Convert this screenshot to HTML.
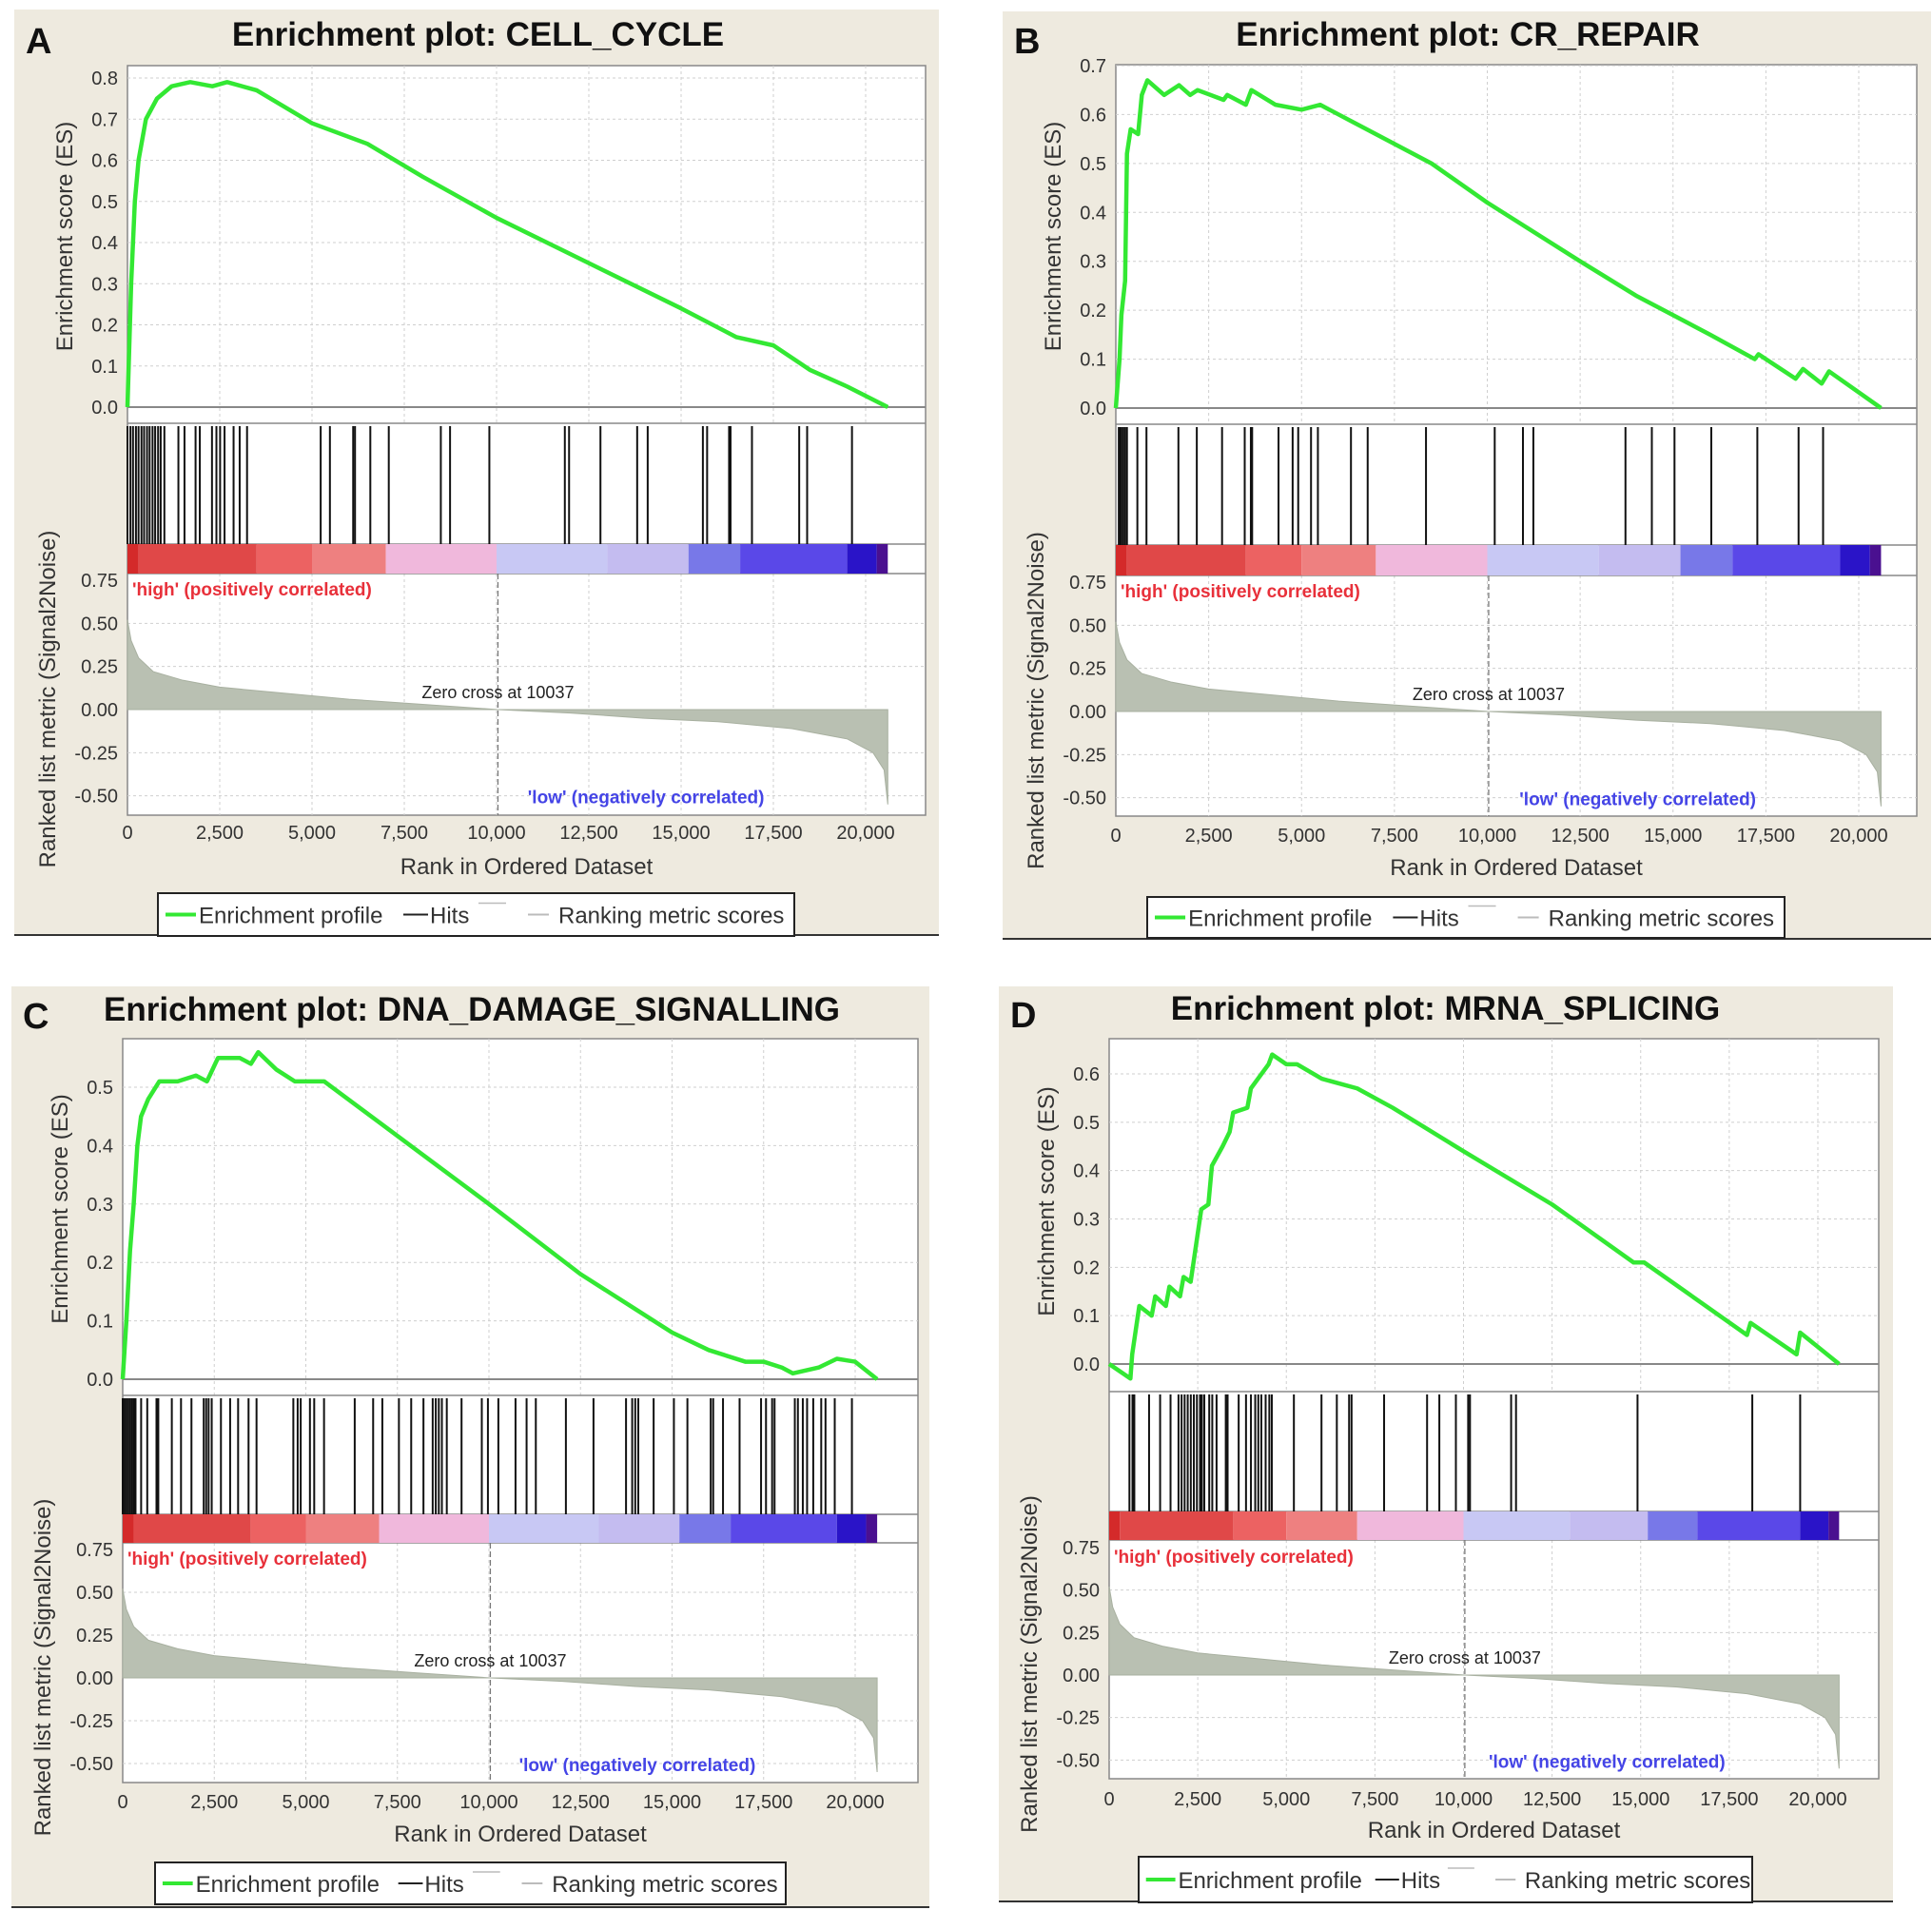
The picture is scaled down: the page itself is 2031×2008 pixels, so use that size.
<!DOCTYPE html>
<html><head><meta charset="utf-8"><style>
html,body{margin:0;padding:0;background:#fff;}
svg{display:block;font-family:"Liberation Sans",sans-serif;}
</style></head><body>
<svg id="fig" width="2031" height="2008" viewBox="0 0 2031 2008" xmlns="http://www.w3.org/2000/svg"></svg>
<script>
// ---------- data ----------
const titles = ["CELL_CYCLE","CR_REPAIR","DNA_DAMAGE_SIGNALLING","MRNA_SPLICING"];
const letters = ["A","B","C","D"];
const xTicks = [0,2500,5000,7500,10000,12500,15000,17500,20000];
const xTickLabels = ["0","2,500","5,000","7,500","10,000","12,500","15,000","17,500","20,000"];
const lowTicks = [0.75,0.5,0.25,0,-0.25,-0.5];
const lowTickLabels = ["0.75","0.50","0.25","0.00","-0.25","-0.50"];
const esTicksA = [0,0.1,0.2,0.3,0.4,0.5,0.6,0.7,0.8];
const esTicksB = [0,0.1,0.2,0.3,0.4,0.5,0.6,0.7];
const esTicksC = [0,0.1,0.2,0.3,0.4,0.5];
const esTicksD = [0,0.1,0.2,0.3,0.4,0.5,0.6];
const totalRanks = 20600;
const zeroCross = 10037;

const esRankA = [0,100,200,300,500,800,1200,1700,2300,2700,3500,5000,6500,8000,10000,12500,15000,16500,17500,18500,19500,20600];
const esValA  = [0,0.3,0.5,0.6,0.7,0.75,0.78,0.79,0.78,0.79,0.77,0.69,0.64,0.56,0.46,0.35,0.24,0.17,0.15,0.09,0.05,0];
const hitsA = [0,80,150,230,300,380,450,530,600,680,750,830,900,1000,1380,1545,1845,1960,2290,2410,2510,2630,2875,3040,3240,5235,5485,6115,6165,6580,7080,8490,8740,9805,11850,11965,12815,13810,14095,15590,15705,16300,16340,16920,18200,18415,19630];

const esRankB = [0,100,150,250,300,400,600,700,850,1300,1700,2000,2200,2900,3000,3500,3650,4300,5000,5500,6000,7000,8500,10000,12500,14000,15000,16000,17200,17300,18300,18500,19000,19200,20600];
const esValB  = [0,0.1,0.19,0.26,0.52,0.57,0.56,0.64,0.67,0.64,0.66,0.64,0.65,0.63,0.64,0.62,0.65,0.62,0.61,0.62,0.6,0.56,0.5,0.42,0.3,0.23,0.19,0.15,0.1,0.11,0.06,0.08,0.05,0.075,0];
const hitsB = [80,120,150,200,250,300,580,825,1685,2180,2860,3470,3635,3670,4380,4760,4910,5255,5440,6330,6780,8350,10200,10960,11240,13720,14430,15040,16030,17270,18380,19040];

const esRankC = [0,100,200,300,400,500,700,1000,1500,2000,2300,2600,3200,3500,3700,4200,4700,5500,7000,8500,10000,12500,14000,15000,16000,17000,17500,18000,18300,19000,19500,20000,20600];
const esValC  = [0,0.1,0.22,0.3,0.4,0.45,0.48,0.51,0.51,0.52,0.51,0.55,0.55,0.54,0.56,0.53,0.51,0.51,0.44,0.37,0.3,0.18,0.12,0.08,0.05,0.03,0.03,0.02,0.01,0.02,0.035,0.03,0];
const hitsC = [0,50,100,150,200,250,300,350,503,670,922,972,1341,1592,1877,2212,2279,2346,2430,2682,2933,3151,3436,3654,4659,4777,4860,5112,5229,5497,6335,6838,7089,7542,7877,8212,8464,8548,8631,8715,8849,9252,9805,9972,10257,10726,11028,11280,12101,12855,13743,13911,13995,14078,14497,15050,15419,16056,16123,16391,16844,17430,17565,17732,17799,18352,18436,18570,18687,18855,19073,19190,19442,19911];

const esRankD = [0,600,650,750,850,1200,1300,1600,1700,2000,2100,2300,2400,2600,2800,2900,3200,3400,3500,3900,4000,4500,4600,5000,5300,6000,7000,8000,10000,12500,14800,15100,18000,18100,19400,19500,20600];
const esValD  = [0,-0.03,0.02,0.07,0.12,0.1,0.14,0.12,0.16,0.14,0.18,0.17,0.22,0.32,0.33,0.41,0.45,0.48,0.52,0.53,0.57,0.62,0.64,0.62,0.62,0.59,0.57,0.53,0.44,0.33,0.21,0.21,0.06,0.085,0.02,0.065,0];
const hitsD = [572,658,710,1126,1438,1732,1957,2044,2130,2217,2304,2390,2477,2564,2616,2685,2824,2910,3031,3291,3343,3655,3862,4001,4122,4209,4295,4416,4520,4590,5213,5992,6425,6771,6841,7759,8972,9318,9785,10131,10183,11344,11482,14911,18150,19501];

const metricRank = [0,100,300,700,1500,2500,4000,6000,8000,10037,12000,14000,16000,18000,19500,20200,20500,20600];
const metricVal  = [0.52,0.4,0.3,0.22,0.17,0.13,0.1,0.06,0.03,0,-0.02,-0.05,-0.07,-0.11,-0.17,-0.25,-0.35,-0.55];

const barStart = [0,300,3500,5000,7000,10000,13000,15200,16600,19500,20300];
const barEnd   = [300,3500,5000,7000,10000,13000,15200,16600,19500,20300,20600];
const barColor = ["#d42a2a","#e04848","#ec6262","#ee8080","#f0b8dc","#c8c8f4","#c4bcf0","#7878e8","#5a48e8","#2a14c8","#4a1090"];

// ---------- layout (geometry, not data) ----------
const panels = [
 {bg:[15,10,987,983], L:134,R:973,top:69,x20:910, esMax:0.8,esMaxY:82,es0:428,esB:445,hitB:572,colB:603, l75:610,l0:746,bot:857, tickY:882,xlabY:919,leg:[166,939,835,984],titleY:48, esTicks:esTicksA,esRank:esRankA,esVal:esValA,hits:hitsA},
 {bg:[1054,12,2030,987], L:1173,R:2015,top:68,x20:1954, esMax:0.7,esMaxY:69,es0:429,esB:446,hitB:573,colB:605, l75:612,l0:748,bot:858, tickY:885,xlabY:920,leg:[1206,943,1876,986],titleY:48, esTicks:esTicksB,esRank:esRankB,esVal:esValB,hits:hitsB},
 {bg:[12,1037,977,2005], L:129,R:965,top:1092,x20:899, esMax:0.5,esMaxY:1143,es0:1450,esB:1467,hitB:1592,colB:1622, l75:1629,l0:1764,bot:1874, tickY:1901,xlabY:1936,leg:[163,1958,826,2002],titleY:1073, esTicks:esTicksC,esRank:esRankC,esVal:esValC,hits:hitsC},
 {bg:[1050,1037,1990,1999], L:1166,R:1975,top:1092,x20:1911, esMax:0.6,esMaxY:1129,es0:1434,esB:1463,hitB:1589,colB:1619, l75:1627,l0:1761,bot:1870, tickY:1898,xlabY:1932,leg:[1197,1952,1842,2000],titleY:1072, esTicks:esTicksD,esRank:esRankD,esVal:esValD,hits:hitsD}
];

const NS = "http://www.w3.org/2000/svg";
const svg = document.getElementById("fig");
function mk(tag, attrs, parent, text){
  const e = document.createElementNS(NS, tag);
  for (const k in attrs) e.setAttribute(k, attrs[k]);
  if (text !== undefined) e.textContent = text;
  parent.appendChild(e);
  return e;
}

panels.forEach((p, i) => {
  const g = mk("g", {}, svg);
  
  
  const xs = r => p.L + (r / 20000) * (p.x20 - p.L);
  const ys = v => p.es0 - (v / p.esMax) * (p.es0 - p.esMaxY);
  const yl = v => p.l0 - (v / 0.75) * (p.l0 - p.l75);

  const bg = mk("rect", {x:p.bg[0], y:p.bg[1], width:p.bg[2]-p.bg[0], height:p.bg[3]-p.bg[1], fill:"#eeeadf"}, g);
  
  
  mk("line", {x1:p.bg[0], x2:p.bg[2], y1:p.bg[3], y2:p.bg[3], stroke:"#333", "stroke-width":2}, g);

  const lt = mk("text", {x:p.bg[0]+12, y:p.titleY+8, "font-size":38, "font-weight":"bold", fill:"#111"}, g, letters[i]);
  
  
  const tt = mk("text", {x:(p.L+p.R)/2 - 51, y:p.titleY, "font-size":35, "font-weight":"bold", fill:"#111", "text-anchor":"middle"}, g, "Enrichment plot: " + titles[i]);
  
  

  const pa = mk("rect", {x:p.L, y:p.top, width:p.R-p.L, height:p.bot-p.top, fill:"#fff", stroke:"#888", "stroke-width":1.5}, g);
  
  

  // grid
  xTicks.forEach(t => {
    if (t === 0) return;
    mk("line", {x1:xs(t), x2:xs(t), y1:p.top, y2:p.esB, stroke:"#cfcfcf", "stroke-dasharray":"3,3"}, g);
    mk("line", {x1:xs(t), x2:xs(t), y1:p.colB, y2:p.bot, stroke:"#cfcfcf", "stroke-dasharray":"3,3"}, g);
  });
  p.esTicks.forEach(t => {
    if (t > 0) mk("line", {x1:p.L, x2:p.R, y1:ys(t), y2:ys(t), stroke:"#cfcfcf", "stroke-dasharray":"3,3"}, g);
    const tl = mk("text", {x:p.L-10, y:ys(t)+7, "font-size":20, fill:"#333", "text-anchor":"end"}, g, t.toFixed(1));
    
    
  });
  lowTicks.forEach((t, k) => {
    if (t !== 0 && t !== 0.75) mk("line", {x1:p.L, x2:p.R, y1:yl(t), y2:yl(t), stroke:"#cfcfcf", "stroke-dasharray":"3,3"}, g);
    const tl = mk("text", {x:p.L-10, y:yl(t)+7, "font-size":20, fill:"#333", "text-anchor":"end"}, g, lowTickLabels[k]);
    
    
  });
  mk("line", {x1:p.L, x2:p.R, y1:p.es0, y2:p.es0, stroke:"#888", "stroke-width":2}, g);
  [p.esB, p.hitB, p.colB].forEach(y => mk("line", {x1:p.L, x2:p.R, y1:y, y2:y, stroke:"#888", "stroke-width":1.5}, g));

  // metric area
  let d = "M" + xs(metricRank[0]) + "," + yl(0);
  metricRank.forEach((r, k) => { d += " L" + xs(r) + "," + yl(metricVal[k]); });
  d += " L" + xs(metricRank[metricRank.length-1]) + "," + yl(0) + " Z";
  const ma = mk("path", {d:d, fill:"#b9c0b2", stroke:"#a8b0a0", "stroke-width":1}, g);
  
  

  // zero cross
  mk("line", {x1:xs(zeroCross), x2:xs(zeroCross), y1:p.colB, y2:p.bot, stroke:"#777", "stroke-dasharray":"6,3", "stroke-width":1.3}, g);
  const zc = mk("text", {x:xs(zeroCross), y:yl(0)-12, "font-size":18, fill:"#222", "text-anchor":"middle"}, g, "Zero cross at " + zeroCross);
  
  
  const hi = mk("text", {x:p.L+5, y:p.l75+16, "font-size":19, "font-weight":"bold", fill:"#e8303a"}, g, "'high' (positively correlated)");
  
  
  const lo = mk("text", {x:xs(14050), y:yl(-0.5)+8, "font-size":19, "font-weight":"bold", fill:"#4444e6", "text-anchor":"middle"}, g, "'low' (negatively correlated)");
  
  

  // color bar
  barStart.forEach((s, k) => {
    const b = mk("rect", {x:xs(s), y:p.hitB, width:xs(barEnd[k])-xs(s), height:p.colB-p.hitB, fill:barColor[k]}, g);
    
    
  });

  // hits
  p.hits.forEach(h => {
    const l = mk("line", {x1:xs(h), x2:xs(h), y1:p.esB+3, y2:p.hitB, stroke:"#111", "stroke-width":2}, g);
    
    
  });

  // ES curve
  const pts = p.esRank.map((r, k) => xs(r) + "," + ys(p.esVal[k])).join(" ");
  const es = mk("polyline", {points:pts, fill:"none", stroke:"#33e833", "stroke-width":4.5, "stroke-linejoin":"round"}, g);
  
  

  // x ticks
  xTicks.forEach((t, k) => {
    const tl = mk("text", {x:xs(t), y:p.tickY, "font-size":20, fill:"#333", "text-anchor":"middle"}, g, xTickLabels[k]);
    
    
  });
  const xl = mk("text", {x:(p.L+p.R)/2, y:p.xlabY, "font-size":24, fill:"#333", "text-anchor":"middle"}, g, "Rank in Ordered Dataset");
  
  
  const cy1 = (p.top + p.es0) / 2;
  const yl1 = mk("text", {x:0, y:0, "font-size":24, fill:"#333", "text-anchor":"middle", transform:"translate(" + (p.L-58) + "," + cy1 + ") rotate(-90)"}, g, "Enrichment score (ES)");
  
  
  const cy2 = (p.colB - 40 + p.bot + 50) / 2;
  const yl2 = mk("text", {x:0, y:0, "font-size":24, fill:"#333", "text-anchor":"middle", transform:"translate(" + (p.L-76) + "," + cy2 + ") rotate(-90)"}, g, "Ranked list metric (Signal2Noise)");
  
  

  // legend
  const lg = mk("g", {}, g);
  
  
  const [a, b, c, e] = p.leg;
  mk("rect", {x:a, y:b, width:c-a, height:e-b, fill:"#fff", stroke:"#222", "stroke-width":2}, lg);
  const my = (b + e) / 2;
  const sc = (c - a) / 669;
  mk("line", {x1:a+8*sc, x2:a+40*sc, y1:my, y2:my, stroke:"#33e833", "stroke-width":4}, lg);
  mk("text", {x:a+43*sc, y:my+9, "font-size":24, fill:"#333"}, lg, "Enrichment profile");
  mk("line", {x1:a+258*sc, x2:a+284*sc, y1:my, y2:my, stroke:"#222", "stroke-width":2}, lg);
  mk("text", {x:a+286*sc, y:my+9, "font-size":24, fill:"#333"}, lg, "Hits");
  mk("line", {x1:a+337*sc, x2:a+366*sc, y1:my-12, y2:my-12, stroke:"#bbb", "stroke-width":1.5}, lg);
  mk("line", {x1:a+389*sc, x2:a+411*sc, y1:my, y2:my, stroke:"#bbb", "stroke-width":2}, lg);
  mk("text", {x:a+421*sc, y:my+9, "font-size":24, fill:"#333"}, lg, "Ranking metric scores");
});
</script>
</body></html>
